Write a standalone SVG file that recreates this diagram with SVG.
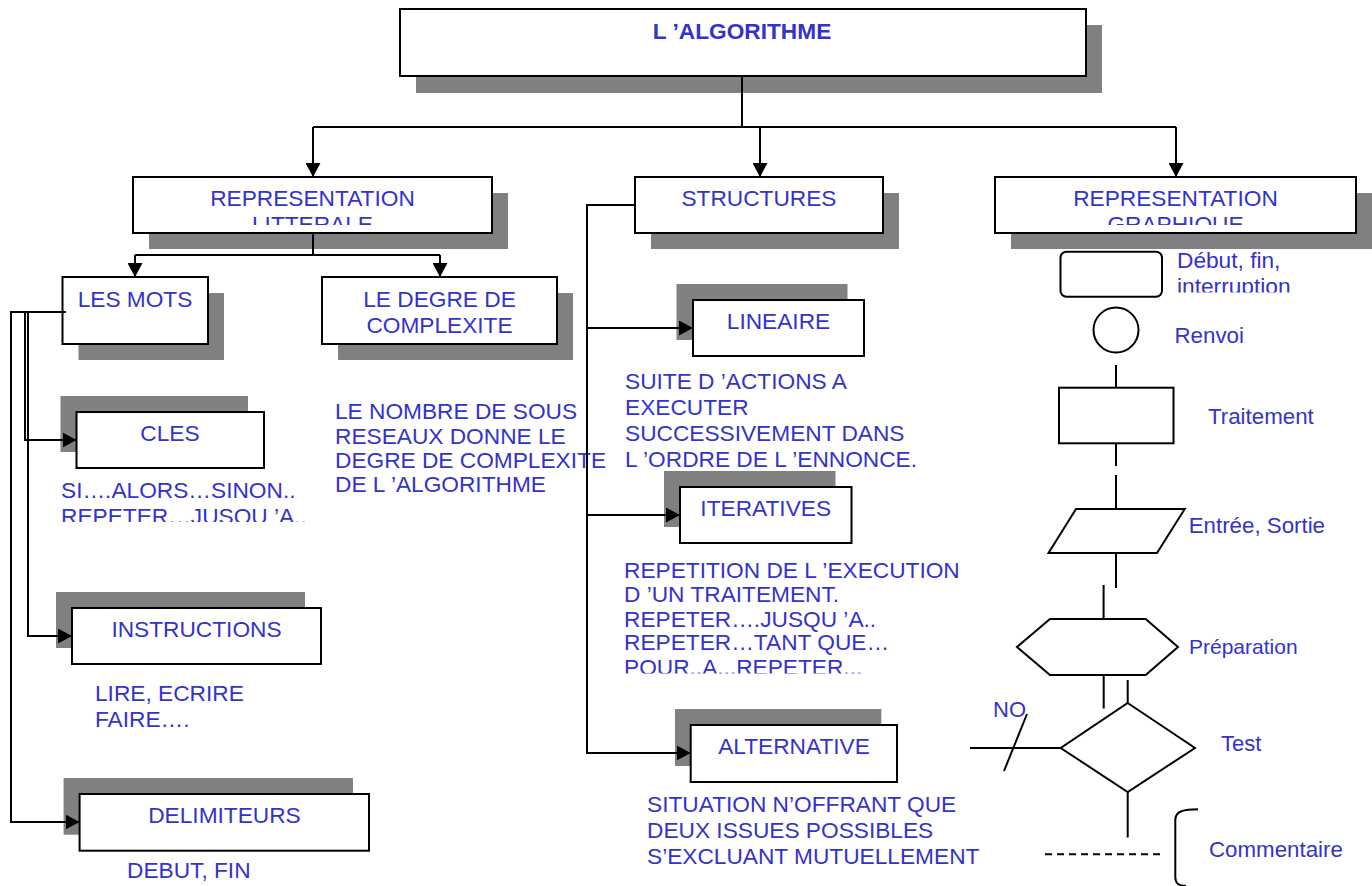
<svg xmlns="http://www.w3.org/2000/svg" width="1372" height="886" viewBox="0 0 1372 886">
<style>
.t{font-family:"Liberation Sans",Arial,sans-serif;font-size:22.7px;fill:#3333cc}
.f{font-size:22.3px}
.c{text-anchor:middle}
.b{font-weight:bold}
.sh{fill:#808080}
.bx{fill:#fff;stroke:#000;stroke-width:2}
.ln{fill:none;stroke:#000;stroke-width:2}
.sym{fill:#fff;stroke:#000;stroke-width:2}
</style>
<defs>
<marker id="ar" markerUnits="userSpaceOnUse" markerWidth="15" markerHeight="15" refX="14" refY="7.5" orient="auto" viewBox="0 0 15 15">
<path d="M0,0 L14,7.5 L0,15 z" fill="#000"/>
</marker>
<clipPath id="cRL"><rect x="133" y="177" width="359" height="48"/></clipPath>
<clipPath id="cRG"><rect x="995" y="177" width="361" height="48"/></clipPath>
<clipPath id="cCL"><rect x="0" y="470" width="420" height="52"/></clipPath>
<clipPath id="cDF"><rect x="1170" y="245" width="202" height="47.5"/></clipPath>
<clipPath id="cIT"><rect x="600" y="550" width="400" height="123.5"/></clipPath>
</defs>

<g id="algorithme">
<rect class="sh" x="416" y="25" width="686" height="68"/>
<rect class="bx" x="400" y="9" width="686" height="67"/>
<text class="t c b" x="742" y="39">L ’ALGORITHME</text>
</g>

<g id="rep-litterale">
<rect class="sh" x="149" y="193" width="359" height="56"/>
<rect class="bx" x="133" y="177" width="359" height="56"/>
<text class="t c" x="312.5" y="206" clip-path="url(#cRL)">REPRESENTATION<tspan x="312.5" y="232">LITTERALE</tspan></text>
</g>

<g id="structures">
<rect class="sh" x="651" y="193" width="248" height="56"/>
<rect class="bx" x="635" y="177" width="248" height="56"/>
<text class="t c" x="759" y="206">STRUCTURES</text>
</g>

<g id="rep-graphique">
<rect class="sh" x="1011" y="193" width="361" height="56"/>
<rect class="bx" x="995" y="177" width="361" height="56"/>
<text class="t c" x="1175.5" y="206" clip-path="url(#cRG)">REPRESENTATION<tspan x="1175.5" y="232">GRAPHIQUE</tspan></text>
</g>

<g id="les-mots">
<rect class="sh" x="78.5" y="293" width="145.5" height="67"/>
<rect class="bx" x="62.5" y="277" width="145.5" height="67"/>
<text class="t c" x="135" y="307">LES MOTS</text>
</g>

<g id="degre">
<rect class="sh" x="338" y="293" width="235" height="67"/>
<rect class="bx" x="322" y="277" width="235" height="67"/>
<text class="t c" x="439.5" y="307">LE DEGRE DE<tspan x="439.5" y="333">COMPLEXITE</tspan></text>
</g>

<g id="degre-note">
<text class="t" x="335" y="419">LE NOMBRE DE SOUS<tspan x="335" y="444">RESEAUX DONNE LE</tspan><tspan x="335" y="468">DEGRE DE COMPLEXITE</tspan><tspan x="335" y="492">DE L ’ALGORITHME</tspan></text>
</g>

<g id="cles">
<rect class="sh" x="60.5" y="396" width="187.5" height="56"/>
<rect class="bx" x="76.5" y="412" width="187.5" height="56"/>
<text class="t c" x="170" y="441">CLES</text>
<text class="t" x="61" y="498" clip-path="url(#cCL)">SI….ALORS…SINON..<tspan x="61" y="524">REPETER…JUSQU ’A..</tspan></text>
</g>

<g id="instructions">
<rect class="sh" x="56" y="592" width="249" height="56"/>
<rect class="bx" x="72" y="608" width="249" height="56"/>
<text class="t c" x="196.5" y="637">INSTRUCTIONS</text>
<text class="t" x="95" y="701">LIRE, ECRIRE<tspan x="95" y="727">FAIRE….</tspan></text>
</g>

<g id="delimiteurs">
<rect class="sh" x="63.6" y="778" width="289.4" height="56.7"/>
<rect class="bx" x="79.6" y="794" width="289.4" height="56.7"/>
<text class="t c" x="224.5" y="823">DELIMITEURS</text>
<text class="t" x="127" y="878">DEBUT, FIN</text>
</g>

<g id="lineaire">
<rect class="sh" x="676.5" y="284" width="171" height="56"/>
<rect class="bx" x="693" y="300" width="171" height="56"/>
<text class="t c" x="778.5" y="329">LINEAIRE</text>
<text class="t" x="625" y="389">SUITE D ’ACTIONS A<tspan x="625" y="415">EXECUTER</tspan><tspan x="625" y="441">SUCCESSIVEMENT DANS</tspan><tspan x="625" y="467">L ’ORDRE DE L ’ENNONCE.</tspan></text>
</g>

<g id="iteratives">
<rect class="sh" x="664" y="471" width="171.5" height="56"/>
<rect class="bx" x="680" y="487" width="171.5" height="56"/>
<text class="t c" x="765.7" y="516">ITERATIVES</text>
<text class="t" x="624" y="578" clip-path="url(#cIT)">REPETITION DE L ’EXECUTION<tspan x="624" y="602">D ’UN TRAITEMENT.</tspan><tspan x="624" y="627">REPETER….JUSQU ’A..</tspan><tspan x="624" y="650">REPETER…TANT QUE…</tspan><tspan x="624" y="674.5">POUR..A...REPETER...</tspan></text>
</g>

<g id="alternative">
<rect class="sh" x="675" y="709" width="206.3" height="57"/>
<rect class="bx" x="690.7" y="725" width="206.3" height="57"/>
<text class="t c" x="794" y="754">ALTERNATIVE</text>
<text class="t" x="647" y="812">SITUATION N’OFFRANT QUE<tspan x="647" y="838">DEUX ISSUES POSSIBLES</tspan><tspan x="647" y="864">S’EXCLUANT MUTUELLEMENT</tspan></text>
</g>

<g id="connectors">
<path class="ln" d="M742,76 V127" stroke-width="2.5"/>
<path class="ln" d="M313,127 H1176"/>
<path class="ln" d="M313,127 V177" marker-end="url(#ar)"/>
<path class="ln" d="M760,127 V177" marker-end="url(#ar)"/>
<path class="ln" d="M1176,127 V177" marker-end="url(#ar)"/>
<path class="ln" d="M313,233 V255 M135,255 H440"/>
<path class="ln" d="M135,255 V277" marker-end="url(#ar)"/>
<path class="ln" d="M440,255 V277" marker-end="url(#ar)"/>
<path class="ln" d="M66,312 H11 V822 H79.6" marker-end="url(#ar)"/>
<path class="ln" d="M25,312 V440 H76.5" marker-end="url(#ar)"/>
<path class="ln" d="M28,312 V636 H72" marker-end="url(#ar)"/>
<path class="ln" d="M635,205 H587 V753 H690.7" marker-end="url(#ar)"/>
<path class="ln" d="M587,328 H693" marker-end="url(#ar)"/>
<path class="ln" d="M587,515 H680" marker-end="url(#ar)"/>
</g>

<g id="sym-debut">
<rect class="sym" x="1060.5" y="251.7" width="101.5" height="45" rx="6"/>
<text class="t" x="1177" y="267.5" clip-path="url(#cDF)">Début, fin,<tspan x="1177" y="293.7">interruption</tspan></text>
</g>
<g id="sym-renvoi">
<circle class="sym" cx="1116" cy="330" r="22.5"/>
<text class="t f" x="1174.5" y="343">Renvoi</text>
</g>
<g id="sym-traitement">
<path class="ln" d="M1116,365 V387.7"/>
<rect class="sym" x="1059" y="387.7" width="114.5" height="55.6"/>
<text class="t f" x="1208" y="424">Traitement</text>
<path class="ln" d="M1116,443.3 V466 M1116,475 V509"/>
</g>
<g id="sym-entree">
<polygon class="sym" points="1076,509 1184.7,509 1157,553 1048.5,553"/>
<text class="t f" x="1188.7" y="533">Entrée, Sortie</text>
<path class="ln" d="M1116,553 V588 M1103.6,585 V619"/>
</g>
<g id="sym-preparation">
<polygon class="sym" points="1050,619 1145.7,619 1178,647 1145.7,675 1050,675 1017,647"/>
<text class="t" x="1189" y="654" style="font-size:21px">Préparation</text>
<path class="ln" d="M1103.7,675 V708.5 M1127.7,680 V703"/>
</g>
<g id="sym-test">
<polygon class="sym" points="1127.7,703 1195,748 1127.7,792 1060.7,748"/>
<path class="ln" d="M970,748 H1060.7 M1027,714 L1004,771"/>
<text class="t" x="993" y="717" style="font-size:22px">NO</text>
<text class="t" x="1221" y="751" style="font-size:22px">Test</text>
<path class="ln" d="M1127.7,792 V837.5"/>
</g>
<g id="sym-commentaire">
<path class="ln" d="M1045,854.3 H1165" stroke-dasharray="7,5"/>
<path class="ln" d="M1198,809.3 C1184,809.3 1175.3,811 1175.3,820 V877 C1175.3,883 1178,886 1186,886"/>
<text class="t" x="1209" y="857" style="font-size:22.3px">Commentaire</text>
</g>
</svg>
